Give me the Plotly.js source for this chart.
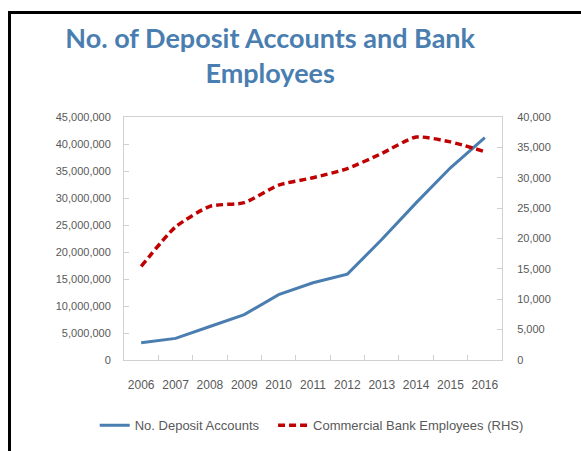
<!DOCTYPE html>
<html>
<head>
<meta charset="utf-8">
<script src="https://cdn.plot.ly/plotly-3.0.1.min.js"></script>
<style>
  html, body { margin: 0; padding: 0; background: #fff; }
  #wrap { position: relative; width: 581px; height: 451px; overflow: hidden; }
  #chart { position: absolute; left: 0; top: 0; width: 581px; height: 451px; }
  #frame { position: absolute; left: 8px; top: 11px; width: 600px; height: 500px;
           border-left: 3px solid #000; border-top: 3px solid #000; pointer-events: none; }
</style>
</head>
<body>
<div id="wrap">
  <div id="chart"></div>
  <div id="frame"></div>
</div>
<script>
const years = ["2006","2007","2008","2009","2010","2011","2012","2013","2014","2015","2016"];
const depositAccounts = [3200000, 4000000, 6200000, 8400000, 12100000, 14300000, 15900000, 22300000, 29100000, 35600000, 41200000];
const bankEmployees = [15400, 21900, 25300, 25900, 28800, 30000, 31500, 34000, 36700, 35900, 34300];
const leftTicks = [0, 5000000, 10000000, 15000000, 20000000, 25000000, 30000000, 35000000, 40000000, 45000000];
const rightTicks = [0, 5000, 10000, 15000, 20000, 25000, 30000, 35000, 40000];

const fam = '"Liberation Sans", Arial, sans-serif';
const xFont = { family: fam, size: 12, color: '#595959' };
const yFont = { family: fam, size: 11, color: '#595959' };
const legFont = { family: fam, size: 13, color: '#595959' };

const traces = [
  {
    x: years, y: depositAccounts, name: 'No. Deposit Accounts',
    type: 'scatter', mode: 'lines',
    line: { color: '#4A7EB0', width: 3 },
    yaxis: 'y', legend: 'legend'
  },
  {
    x: years, y: bankEmployees, name: 'Commercial Bank Employees (RHS)',
    type: 'scatter', mode: 'lines',
    line: { color: '#C00000', width: 3.5, dash: '7px,4px', shape: 'spline', smoothing: 0.6 },
    yaxis: 'y2', legend: 'legend2'
  }
];

const legendBase = {
  orientation: 'h', xanchor: 'left', xref: 'container',
  y: 0.057, yanchor: 'middle', yref: 'container',
  font: legFont, bgcolor: 'rgba(0,0,0,0)', itemwidth: 30
};

const layout = {
  width: 581, height: 451,
  margin: { l: 124, r: 79, t: 117, b: 91 },
  paper_bgcolor: '#fff', plot_bgcolor: '#fff',
  title: {
    text: 'No. of Deposit Accounts and Bank<br>Employees',
    font: { family: 'Lato, "Open Sans", sans-serif', size: 27, color: '#4A7EB0', weight: 'bold' },
    x: 0.465, xanchor: 'center', xref: 'container',
    y: 0.893, yanchor: 'top', yref: 'container'
  },
  showlegend: true,
  legend: Object.assign({}, legendBase, { x: 0.163 }),
  legend2: Object.assign({}, legendBase, { x: 0.47 }),
  xaxis: {
    type: 'category', range: [-0.5, 10.5],
    showline: true, linecolor: '#d0d0d0', linewidth: 1, mirror: true,
    ticks: 'inside', ticklen: 5, tickcolor: '#d0d0d0', tickson: 'boundaries',
    showgrid: false, zeroline: false, tickangle: 0, automargin: false,
    tickfont: xFont, ticklabelstandoff: 14,
    fixedrange: true
  },
  yaxis: {
    range: [0, 45000000], tickvals: leftTicks,
    tickformat: ',d', automargin: false,
    showline: true, linecolor: '#d0d0d0', linewidth: 1,
    ticks: 'inside', ticklen: 5, tickcolor: '#d0d0d0',
    showgrid: false, zeroline: false,
    tickfont: yFont, ticklabelstandoff: 10
  },
  yaxis2: {
    overlaying: 'y', side: 'right',
    range: [0, 40000], tickvals: rightTicks,
    tickformat: ',d', automargin: false,
    showline: true, linecolor: '#d0d0d0', linewidth: 1,
    ticks: 'inside', ticklen: 5, tickcolor: '#d0d0d0',
    showgrid: false, zeroline: false,
    tickfont: yFont, ticklabelstandoff: 12
  }
};

Plotly.newPlot('chart', traces, layout, { displayModeBar: false, staticPlot: true });
</script>
</body>
</html>
